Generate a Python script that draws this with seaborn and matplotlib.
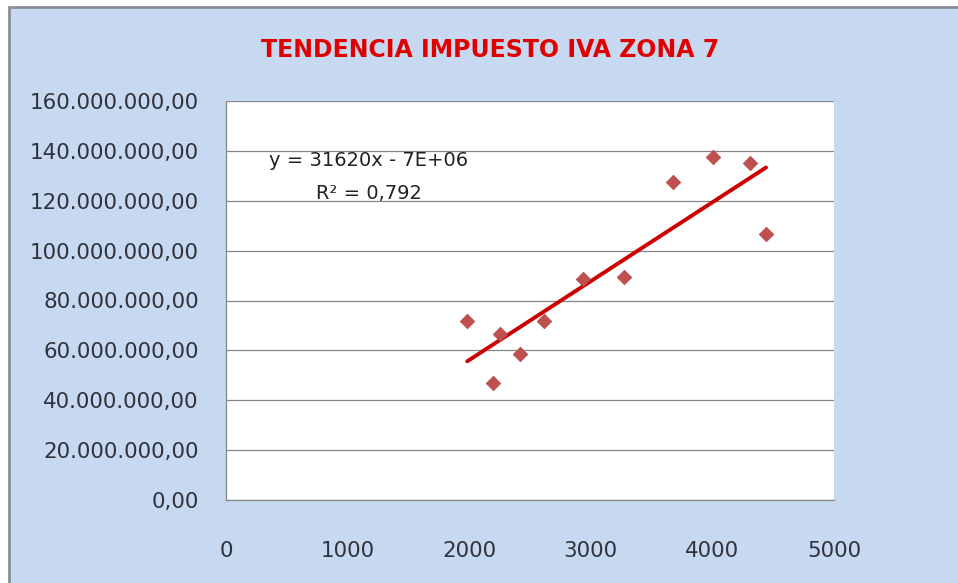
import numpy as np
import pandas as pd
import matplotlib
matplotlib.use("Agg")
import matplotlib.pyplot as plt
from matplotlib.patches import Rectangle
from matplotlib.ticker import FuncFormatter
import seaborn as sns

# data
zona_x = [1984, 2193, 2253, 2418, 2615, 2933, 3276, 3673, 4008, 4309, 4441]
iva_y = [71.7e6, 46.8e6, 66.5e6, 58.5e6, 71.6e6, 88.7e6, 89.5e6,
         127.6e6, 137.4e6, 135.3e6, 106.6e6]
titulo = "TENDENCIA IMPUESTO IVA ZONA 7"
ecuacion = "y = 31620x - 7E+06"
r2_txt = "R² = 0,792"
x_ticks = [0, 1000, 2000, 3000, 4000, 5000]
y_ticks = [0, 20e6, 40e6, 60e6, 80e6, 100e6, 120e6, 140e6, 160e6]

df = pd.DataFrame({"x": zona_x, "y": iva_y})

sns.set_style("white")
plt.rcParams["font.family"] = ["DejaVu Sans"]

W, H = 958, 583
fig = plt.figure(figsize=(W / 100, H / 100), dpi=100, facecolor="white")

# chart frame (excel style light blue)
fig.patches.append(Rectangle((9 / W, -0.02), 1.05, 1 - 7 / H + 0.02,
                             transform=fig.transFigure, facecolor="#C6D9F0",
                             edgecolor="#8A9099", linewidth=2, zorder=-10))

ax = fig.add_axes([226 / W, 1 - 500 / H, 608 / W, 399 / H])
ax.set_zorder(5)
ax.set_facecolor("white")

sns.regplot(data=df, x="x", y="y", ax=ax, scatter=False, ci=None,
            truncate=True, line_kws={"color": "#CC0000", "lw": 2.8, "zorder": 3})
sns.scatterplot(data=df, x="x", y="y", ax=ax, marker="D", s=55,
                color="#C0504D", edgecolor="#B04743", linewidth=0.5, zorder=4)

ax.set_xlim(0, 5000)
ax.set_ylim(0, 160e6)
ax.set_xticks(x_ticks)
ax.set_yticks(y_ticks)

def fmt_es(v, pos):
    s = f"{v:,.2f}"
    return s.replace(",", "X").replace(".", ",").replace("X", ".")

ax.yaxis.set_major_formatter(FuncFormatter(fmt_es))
ax.xaxis.set_major_formatter(FuncFormatter(lambda v, p: f"{int(v)}"))

ax.grid(axis="y", color="#868686", linewidth=0.9)
ax.grid(axis="x", visible=False)
ax.set_axisbelow(True)
for s in ["top", "right"]:
    ax.spines[s].set_visible(False)
for s in ["left", "bottom"]:
    ax.spines[s].set_color("#868686")
    ax.spines[s].set_linewidth(0.9)

ax.tick_params(axis="y", direction="out", length=6.5, color="#868686",
               labelsize=15.4, labelcolor="#30323C", pad=13)
ax.tick_params(axis="x", direction="out", length=6.5, color="#868686",
               labelsize=15.4, labelcolor="#30323C", pad=23)
ax.set_xlabel("")
ax.set_ylabel("")

ax.text(0.235, 0.850, ecuacion, transform=ax.transAxes, ha="center",
        va="center", fontsize=14, color="#222222")
ax.text(0.235, 0.769, r2_txt, transform=ax.transAxes, ha="center",
        va="center", fontsize=14, color="#222222")

fig.text(490 / W, 1 - 50 / H, titulo, ha="center", va="center",
         fontsize=17, fontweight="bold", color="#E00000")

fig.savefig("out.png", dpi=100, facecolor=fig.get_facecolor())
